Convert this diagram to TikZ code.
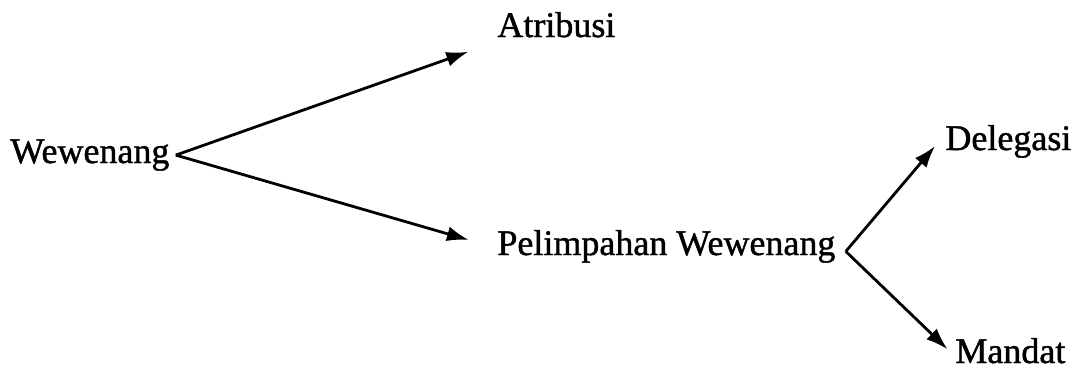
\documentclass[tikz,border=0pt]{standalone}
\usepackage{fontspec}
\setmainfont[FakeBold=1.2]{Liberation Serif}
\usetikzlibrary{arrows.meta}
\tikzset{
  term/.style={inner sep=3pt, font=\fontsize{18}{22}\selectfont, anchor=base west},
  arr/.style={line width=1.4pt, -{Latex[length=11pt,width=7.5pt]}}
}
\begin{document}
\begin{tikzpicture}[x=0.5pt,y=-0.5pt]
\useasboundingbox (0,0) rectangle (1072,370);

\node[term] (wew) at (4,163) {Wewenang};
\node[term] (atr) at (491,37) {Atribusi};
\node[term] (pel) at (491,255) {Pelimpahan Wewenang};
\node[term] (dlg) at (939,150) {Delegasi};
\node[term] (mnd) at (949,363) {Mandat};

\draw[arr, shorten >=12pt] (wew.east) -- (atr.south west);
\draw[arr, shorten >=11.5pt] (wew.east) -- (pel.west);
\draw[arr, shorten >=3pt] ([xshift=2pt,yshift=-2.5pt]pel.east) -- (dlg.west);
\draw[arr, shorten >=1pt] ([xshift=2pt,yshift=-2.5pt]pel.east) -- (mnd.west);

\end{tikzpicture}
\end{document}
